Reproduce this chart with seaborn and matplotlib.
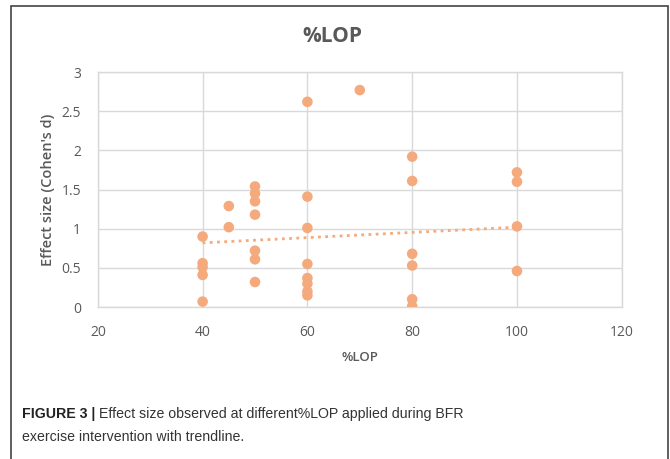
import matplotlib
matplotlib.use("Agg")
import matplotlib.pyplot as plt
import seaborn as sns
import numpy as np
import pandas as pd
from matplotlib.patches import Rectangle

# Données (%LOP vs taille d'effet)
lop = [40, 40, 40, 40, 40,
       45, 45,
       50, 50, 50, 50, 50, 50, 50,
       60, 60, 60, 60, 60, 60, 60, 60,
       70,
       80, 80, 80, 80, 80, 80,
       100, 100, 100, 100]
cohen_d = [0.90, 0.56, 0.51, 0.41, 0.07,
           1.29, 1.02,
           1.54, 1.45, 1.35, 1.18, 0.72, 0.61, 0.32,
           2.62, 1.41, 1.01, 0.55, 0.37, 0.30, 0.20, 0.15,
           2.77,
           1.92, 1.61, 0.68, 0.53, 0.10, 0.01,
           1.72, 1.60, 1.03, 0.46]
# courbe de tendance (Excel)
trend_lop = [40, 100]
trend_d = [0.82, 1.02]
x_ticks = [20, 40, 60, 80, 100, 120]
y_ticks = [0, 0.5, 1, 1.5, 2, 2.5, 3]
y_ticklabels = ["0", "0.5", "1", "1.5", "2", "2.5", "3"]

df = pd.DataFrame({"lop": lop, "d": cohen_d})
trend = pd.DataFrame({"lop": trend_lop, "d": trend_d})

ORANGE = "#F4AA7C"
GREY_TXT = "#595959"
GRID = "#D9D9D9"

sns.set_theme(style="white")
plt.rcParams["font.family"] = ["Open Sans", "DejaVu Sans"]

fig = plt.figure(figsize=(6.7, 4.59), dpi=100)
ax = fig.add_axes([0.146, 0.331, 0.782, 0.512])

sns.scatterplot(data=df, x="lop", y="d", ax=ax, color=ORANGE,
                s=58, edgecolor="none", zorder=3)
sns.lineplot(data=trend, x="lop", y="d", ax=ax, color=ORANGE,
             linestyle=(0, (1, 1.6)), linewidth=2.0, zorder=2)

ax.set_xlim(20, 120)
ax.set_ylim(0, 3)
ax.set_xticks(x_ticks)
ax.set_yticks(y_ticks)
ax.set_yticklabels(y_ticklabels)
ax.grid(True, color=GRID, linewidth=1.0)
ax.set_axisbelow(True)
for sp in ax.spines.values():
    sp.set_color(GRID)
    sp.set_linewidth(1.0)
ax.tick_params(axis="both", length=0, labelsize=10, labelcolor=GREY_TXT)
ax.tick_params(axis="x", pad=13)
ax.tick_params(axis="y", pad=12)

ax.set_xlabel("%LOP", fontsize=9.5, fontweight="semibold", color=GREY_TXT,
              labelpad=8)
ax.set_ylabel("Effect size (Cohen's d)", fontsize=10.5, fontweight="semibold",
              color=GREY_TXT, labelpad=5)
fig.text(0.496, 1 - 37 / 459, "%LOP", ha="center",
         va="center", fontsize=15, fontweight="bold", color=GREY_TXT)

# cadre extérieur
fig.add_artist(Rectangle((11 / 670, -0.05), (668 - 11) / 670, 1 - 6 / 459 + 0.05,
                         transform=fig.transFigure, fill=False,
                         edgecolor="#444444", linewidth=1.2))

# légende de la figure
cap_font = ["Liberation Sans", "DejaVu Sans"]
y1 = 1 - 414 / 459
y2 = 1 - 437 / 459
t1 = fig.text(22 / 670, y1, "FIGURE 3 |", fontsize=10.2, fontweight="bold",
              color="#222222", family=cap_font, va="center")
fig.canvas.draw()
bb = t1.get_window_extent().transformed(fig.transFigure.inverted())
fig.text(bb.x1 + 4 / 670, y1,
         "Effect size observed at different%LOP applied during BFR",
         fontsize=10.2, color="#333333", family=cap_font, va="center")
fig.text(22 / 670, y2, "exercise intervention with trendline.",
         fontsize=10.2, color="#333333", family=cap_font, va="center")

fig.savefig("out.png", dpi=100, facecolor="white")
